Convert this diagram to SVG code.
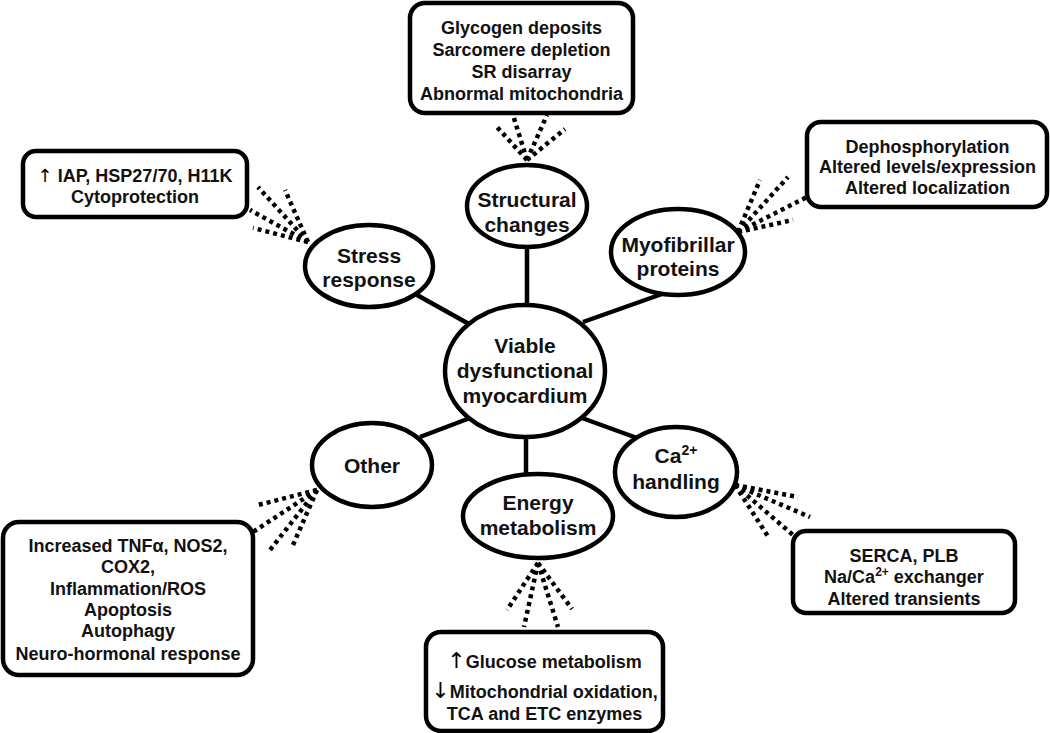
<svg xmlns="http://www.w3.org/2000/svg" width="1050" height="733" viewBox="0 0 1050 733">
<style>
.node ellipse{fill:#fff;stroke:#000;stroke-width:4.5}
.box rect{fill:#fff;stroke:#000;stroke-width:4.5}
text{font-family:"Liberation Sans",Arial,sans-serif;font-weight:bold;fill:#111;text-anchor:middle}
.lbl{font-size:21px}
.bt{font-size:18px}
.ar{font-weight:normal;font-family:"DejaVu Sans",sans-serif;fill:#000}
.conn line{stroke:#000;stroke-width:4.5}
.fan line{stroke:#000;stroke-width:4.5;stroke-dasharray:4 4}
</style>
<rect width="1050" height="733" fill="#fff"/>
<g id="connectors">
 <g class="conn">
  <line x1="527" y1="247" x2="527" y2="306"/>
  <line x1="417" y1="295" x2="469" y2="324"/>
  <line x1="662" y1="294" x2="583" y2="322"/>
  <line x1="420" y1="437" x2="470" y2="418"/>
  <line x1="526" y1="438" x2="526" y2="477"/>
  <line x1="582" y1="418" x2="637" y2="438"/>
 </g>
 <g class="fan">
  <line x1="527" y1="160" x2="497" y2="127"/>
  <line x1="527" y1="160" x2="513" y2="115"/>
  <line x1="527" y1="160" x2="547" y2="115"/>
  <line x1="527" y1="160" x2="565" y2="129"/>
  <line x1="308" y1="242" x2="258" y2="187"/>
  <line x1="308" y1="242" x2="285" y2="190"/>
  <line x1="308" y1="242" x2="250" y2="210"/>
  <line x1="308" y1="242" x2="253" y2="228"/>
  <line x1="738" y1="232" x2="760" y2="180"/>
  <line x1="738" y1="232" x2="788" y2="177"/>
  <line x1="738" y1="232" x2="807" y2="197"/>
  <line x1="738" y1="232" x2="793" y2="220"/>
  <line x1="317" y1="490" x2="258" y2="505"/>
  <line x1="317" y1="490" x2="253" y2="532"/>
  <line x1="317" y1="490" x2="270" y2="550"/>
  <line x1="317" y1="490" x2="293" y2="545"/>
  <line x1="538" y1="563" x2="507" y2="610"/>
  <line x1="538" y1="563" x2="524" y2="627"/>
  <line x1="538" y1="563" x2="558" y2="627"/>
  <line x1="538" y1="563" x2="572" y2="609"/>
  <line x1="735" y1="485" x2="798" y2="497"/>
  <line x1="735" y1="485" x2="810" y2="517"/>
  <line x1="735" y1="485" x2="793" y2="535"/>
  <line x1="735" y1="485" x2="769" y2="538"/>
 </g>
</g>
<g id="center" class="node"><ellipse cx="525" cy="371" rx="80" ry="66"/>
 <text class="lbl" x="525" y="353">Viable</text><text class="lbl" x="525" y="378">dysfunctional</text><text class="lbl" x="525" y="403">myocardium</text></g>
<g id="structural" class="node"><ellipse cx="527" cy="206" rx="60" ry="41"/>
 <text class="lbl" x="527" y="207">Structural</text><text class="lbl" x="527" y="232">changes</text></g>
<g id="myofibrillar" class="node"><ellipse cx="678" cy="252" rx="67" ry="43"/>
 <text class="lbl" x="678" y="252">Myofibrillar</text><text class="lbl" x="678" y="276">proteins</text></g>
<g id="stress" class="node"><ellipse cx="369" cy="266" rx="64" ry="41"/>
 <text class="lbl" x="369" y="263">Stress</text><text class="lbl" x="369" y="287">response</text></g>
<g id="other" class="node"><ellipse cx="372" cy="465" rx="60" ry="42"/>
 <text class="lbl" x="372" y="473">Other</text></g>
<g id="energy" class="node"><ellipse cx="538" cy="516" rx="75" ry="42"/>
 <text class="lbl" x="538" y="510">Energy</text><text class="lbl" x="538" y="535">metabolism</text></g>
<g id="calcium" class="node"><ellipse cx="676" cy="472" rx="61" ry="45"/>
 <text class="lbl" x="676" y="463">Ca<tspan font-size="14" dy="-8">2+</tspan></text><text class="lbl" x="676" y="489">handling</text></g>
<g id="box-structural" class="box"><rect x="410" y="3" width="223" height="110" rx="15"/>
 <text class="bt" x="521.5" y="34">Glycogen deposits</text><text class="bt" x="521.5" y="56">Sarcomere depletion</text><text class="bt" x="521.5" y="78">SR disarray</text><text class="bt" x="521.5" y="100">Abnormal mitochondria</text></g>
<g id="box-stress" class="box"><rect x="23" y="151" width="224" height="66" rx="13"/>
 <text class="bt" x="135" y="182"><tspan class="ar">↑</tspan> IAP, HSP27/70, H11K</text><text class="bt" x="135" y="203">Cytoprotection</text></g>
<g id="box-myofibrillar" class="box"><rect x="807" y="122" width="240" height="85" rx="14"/>
 <text class="bt" x="927.5" y="153">Dephosphorylation</text><text class="bt" x="927.5" y="173">Altered levels/expression</text><text class="bt" x="927.5" y="194">Altered localization</text></g>
<g id="box-calcium" class="box"><rect x="793" y="531" width="222" height="82" rx="13"/>
 <text class="bt" x="904" y="562">SERCA, PLB</text><text class="bt" x="904" y="583">Na/Ca<tspan font-size="12" dy="-7">2+</tspan><tspan dy="7"> exchanger</tspan></text><text class="bt" x="904" y="605">Altered transients</text></g>
<g id="box-energy" class="box"><rect x="426" y="632" width="237" height="99" rx="15"/>
 <text class="bt" x="544.5" y="668"><tspan class="ar" font-size="22">↑</tspan>Glucose metabolism</text><text class="bt" x="544.5" y="698"><tspan class="ar" font-size="22">↓</tspan>Mitochondrial oxidation,</text><text class="bt" x="544.5" y="720">TCA and ETC enzymes</text></g>
<g id="box-other" class="box"><rect x="3" y="522" width="250" height="153" rx="16"/>
 <text class="bt" x="128" y="552">Increased TNFα, NOS2,</text><text class="bt" x="128" y="573">COX2,</text><text class="bt" x="128" y="595">Inflammation/ROS</text><text class="bt" x="128" y="616">Apoptosis</text><text class="bt" x="128" y="637">Autophagy</text><text class="bt" x="128" y="660">Neuro-hormonal response</text></g>
</svg>
